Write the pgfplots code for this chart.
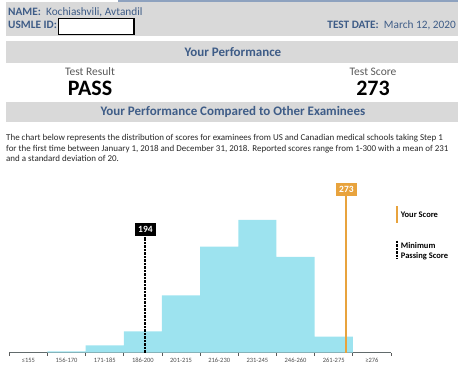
\documentclass[border=0pt]{standalone}
\usepackage{fontspec}
\setmainfont{Carlito}
\usepackage{pgfplots}
\pgfplotsset{compat=1.18}
\definecolor{hblue}{HTML}{3E5C87}
\definecolor{stripc}{HTML}{8EA2BF}
\definecolor{grayc}{HTML}{D9D9D9}
\definecolor{graytext}{HTML}{595959}
\definecolor{orangec}{HTML}{E8A33D}
\definecolor{barc}{HTML}{9DE3EF}
\definecolor{axisc}{HTML}{5A5A5A}
\newcommand{\fs}[1]{\fontsize{#1}{#1}\selectfont}
\begin{document}
\begin{tikzpicture}
\useasboundingbox (0,0) rectangle (474pt,-368pt);
\begin{scope}[x=1pt,y=-1pt]
 % header
 \fill[stripc] (118,0) rectangle (458,3);
 \fill[grayc] (6,2) rectangle (458,36);
 \node[anchor=base west, inner sep=0, text=hblue, font=\fs{11.3}] at (8,15.2) {\textbf{NAME:}\ \ Kochiashvili, Avtandil};
 \node[anchor=base west, inner sep=0, text=hblue, font=\fs{11.3}] at (8,28.7) {\textbf{USMLE ID:}};
 \draw[fill=white, draw=black, line width=1.5pt] (58.7,18.3) rectangle (134,34.7);
 \node[anchor=base east, inner sep=0, text=hblue, font=\fs{11.3}] at (456,28.7) {\textbf{TEST DATE:}\ \ March 12, 2020};
 % your performance
 \fill[grayc] (6,41) rectangle (458,63);
 \node[anchor=base, inner sep=0, text=hblue, font=\bfseries\fs{13}] at (233,56.8) {Your Performance};
 \node[anchor=base, inner sep=0, text=graytext, font=\fs{11.5}] at (90,75) {Test Result};
 \node[anchor=base, inner sep=0, text=graytext, font=\fs{11.5}] at (373,75) {Test Score};
 \node[anchor=base, inner sep=0, text=black, font=\bfseries\fs{22}] at (90,95) {PASS};
 \node[anchor=base, inner sep=0, text=black, font=\bfseries\fs{22}] at (373,95) {273};
 % compared
 \fill[grayc] (6,102) rectangle (458,122);
 \node[anchor=base, inner sep=0, text=hblue, font=\bfseries\fs{13}] at (233,115.8) {Your Performance Compared to Other Examinees};
 \node[anchor=base west, inner sep=0, text=black!85, font=\fs{8.95}] at (6,140.5) {The chart below represents the distribution of scores for examinees from US and Canadian medical schools taking Step 1};
 \node[anchor=base west, inner sep=0, text=black!85, font=\fs{8.95}] at (6,151) {for the first time between January 1, 2018 and December 31, 2018. Reported scores range from 1-300 with a mean of 231};
 \node[anchor=base west, inner sep=0, text=black!85, font=\fs{8.95}] at (6,161.5) {and a standard deviation of 20.};
 % legend
 \draw[orangec, line width=2pt] (396.7,206) -- (396.7,223.3);
 \node[anchor=base west, inner sep=0, font=\bfseries\fs{8.5}] at (400.7,217.2) {Your Score};
 \draw[black, line width=2pt, dash pattern=on 2.5pt off 1pt] (396.7,240.7) -- (396.7,259);
 \node[anchor=base west, inner sep=0, font=\bfseries\fs{8.5}] at (400.7,248.3) {Minimum};
 \node[anchor=base west, inner sep=0, font=\bfseries\fs{8.5}] at (400.7,258) {Passing Score};
\end{scope}
\begin{axis}[
  at={(9.3pt,-352.7pt)}, anchor=south west,
  scale only axis, width=381.7pt, height=175.2pt,
  xmin=140.5, xmax=290.5, ymin=0, ymax=40,
  axis x line*=bottom, axis y line=none,
  x axis line style={-, axisc, line width=1pt},
  clip=false,
  xtick={148,163,178,193,208,223,238,253,268,283},
  xticklabels={≤155,156-170,171-185,186-200,201-215,216-230,231-245,246-260,261-275,≥276},
  typeset ticklabels with strut,
  major tick length=0pt,
  minor xtick={140.5,155.5,170.5,185.5,200.5,215.5,230.5,245.5,260.5,275.5,290.5},
  minor tick length=3pt,
  tick align=outside,
  tick style={axisc, line width=0.9pt},
  xticklabel style={font=\fs{6.5}, text=black!70, yshift=-2pt, anchor=north},
]
\addplot[ybar interval=0.96, fill=barc, draw=none] coordinates {
 (140.5,0) (155.5,0.32) (170.5,1.67) (185.5,4.86) (200.5,13.08) (215.5,24.2) (230.5,30.3) (245.5,21.9) (260.5,3.65) (275.5,0) (290.5,0)};
\addplot[black, line width=2pt, dash pattern=on 2.5pt off 1pt] coordinates {(194,0) (194,26.5)};
\addplot[orangec, line width=2pt] coordinates {(273,0) (273,35.8)};
\node[fill=black, text=white, font=\bfseries\fs{9.5}, inner sep=0pt, minimum width=20.6pt, minimum height=13pt, anchor=south] at (axis cs:194,26.7) {194};
\node[fill=orangec, text=white, font=\bfseries\fs{9.5}, inner sep=0pt, minimum width=21.7pt, minimum height=12.7pt, anchor=south] at (axis cs:273,35.8) {273};
\end{axis}
\end{tikzpicture}
\end{document}
